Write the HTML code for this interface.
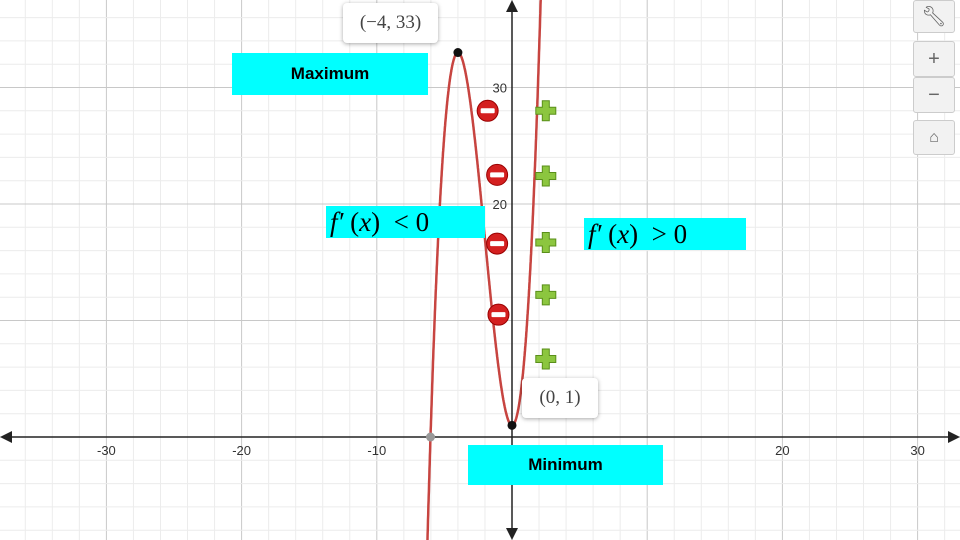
<!DOCTYPE html>
<html><head><meta charset="utf-8"><style>
body{margin:0;width:960px;height:540px;overflow:hidden;background:#fff;font-family:"Liberation Sans",sans-serif}
svg{position:absolute;left:0;top:0}
.box{position:absolute;background:#00ffff;display:flex;align-items:center;justify-content:center;font-weight:bold;font-size:17px;color:#000}
.math{position:absolute;background:#00ffff;font-family:"Liberation Serif",serif;font-style:italic;font-size:27px;display:flex;align-items:center;padding-left:4px;box-sizing:border-box}
.tip{position:absolute;background:#fff;border-radius:4px;box-shadow:0 1px 4px rgba(0,0,0,.35);font-family:"Liberation Serif",serif;font-size:19px;color:#444;display:flex;align-items:center;justify-content:center}
.btn{position:absolute;left:913px;width:42px;background:#f2f2f2;border:1px solid #ccc;border-radius:3px;color:#666;font-size:20px;display:flex;align-items:center;justify-content:center;box-sizing:border-box}
</style></head><body>
<svg id="chart" width="960" height="540"></svg>
<div class="box" style="left:232px;top:53px;width:196px;height:42px">Maximum</div>
<div class="box" style="left:468px;top:445px;width:195px;height:40px">Minimum</div>
<div class="math" style="left:326px;top:206px;width:159px;height:32px">f&#8242;&nbsp;<span style="font-style:normal">(</span>x<span style="font-style:normal">)&nbsp;&nbsp;&lt; 0</span></div>
<div class="math" style="left:584px;top:218px;width:162px;height:32px">f&#8242;&nbsp;<span style="font-style:normal">(</span>x<span style="font-style:normal">)&nbsp;&nbsp;&gt; 0</span></div>
<div class="tip" style="left:343px;top:3px;width:95px;height:40px">(−4, 33)</div>
<div class="tip" style="left:522px;top:378px;width:76px;height:40px">(0, 1)</div>
<div class="btn" style="top:0;height:33px">&#128295;&#xFE0E;</div>
<div class="btn" style="top:41px;height:36px">+</div>
<div class="btn" style="top:77px;height:36px">−</div>
<div class="btn" style="top:120px;height:35px;font-size:16px">&#8962;</div>
<script>
const coeffs=[1,6,0,1];
const xTicks=[-30,-20,-10,20,30];
const yTicks=[20,30];
const keyPoints=[[-4,33],[0,1]];
const rootPoint=[-6.027,0];
const minusY=[28,22.5,16.6,10.5];
const minusX=[-1.8,-1.1,-1.1,-1.0];
const plusY=[28,22.4,16.7,12.2,6.7];
const plusX=[2.5,2.5,2.5,2.5,2.5];
const X=v=>512+v*13.52, Y=v=>437-v*11.65;
const s=document.getElementById('chart'),NS='http://www.w3.org/2000/svg';
function el(t,a,p){const e=document.createElementNS(NS,t);for(const k in a)e.setAttribute(k,a[k]);(p||s).appendChild(e);return e;}
for(let v=-40;v<=36;v+=2){const e=el('line',{x1:X(v),x2:X(v),y1:0,y2:540,stroke:v%10==0?'#c8c8c8':'#ececec','stroke-width':1});

}
for(let v=-10;v<=46;v+=2){const e=el('line',{y1:Y(v),y2:Y(v),x1:0,x2:960,stroke:v%10==0?'#c8c8c8':'#ececec','stroke-width':1});

}
const ax=el('path',{d:`M2 437H958M512 2V538`,stroke:'#222','stroke-width':1.5,fill:'none'});


el('path',{d:'M0 437l12 -6v12zM960 437l-12 -6v12zM512 0l-6 12h12zM512 540l-6 -12h12z',fill:'#222'});
xTicks.forEach(v=>{const t=el('text',{x:X(v),y:455,'text-anchor':'middle','font-size':13,fill:'#333'});t.textContent=v;

});
yTicks.forEach(v=>{const t=el('text',{x:507,y:Y(v)+5,'text-anchor':'end','font-size':13,fill:'#333'});t.textContent=v;

});
let d='';for(let x=-6.3;x<=2.2;x+=0.01){const y=((coeffs[0]*x+coeffs[1])*x+coeffs[2])*x+coeffs[3];d+=(d?'L':'M')+X(x).toFixed(1)+' '+Y(y).toFixed(1);}
const c=el('path',{d,stroke:'#c74440','stroke-width':2.5,fill:'none'});


keyPoints.forEach(p=>{const e=el('circle',{cx:X(p[0]),cy:Y(p[1]),r:4.5,fill:'#111'});

});
const rp=el('circle',{cx:X(rootPoint[0]),cy:Y(rootPoint[1]),r:4.5,fill:'#999'});


minusY.forEach((v,i)=>{const g=el('g',{});


el('circle',{cx:X(minusX[i]),cy:Y(v),r:10.5,fill:'#d42020',stroke:'#900','stroke-width':1},g);
el('rect',{x:X(minusX[i])-7,y:Y(v)-2.5,width:14,height:5,fill:'#fff',rx:1},g);});
plusY.forEach((v,i)=>{const cx=X(plusX[i]),cy=Y(v);const p=el('path',{d:`M${cx-3.5} ${cy-10}h7v6.5h6.5v7h-6.5v6.5h-7v-6.5h-6.5v-7h6.5z`,fill:'#8cc63f',stroke:'#5a8f1a','stroke-width':1});

});
</script>
</body></html>
